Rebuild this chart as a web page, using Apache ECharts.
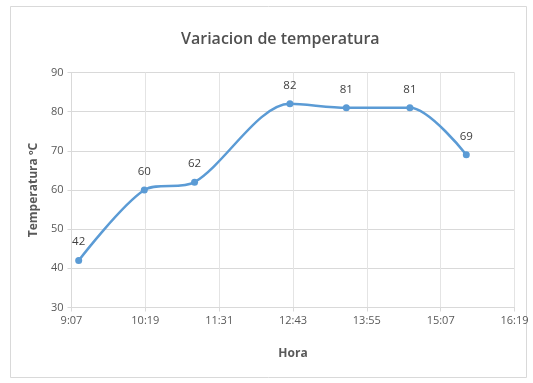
<!DOCTYPE html>
<html>
<head>
<meta charset="utf-8">
<script src="https://cdn.jsdelivr.net/npm/echarts@6/dist/echarts.min.js"></script>
<style>
  html, body { margin: 0; padding: 0; background: #ffffff; }
  #chart { width: 533px; height: 383px; }
</style>
</head>
<body>
<div id="chart"></div>
<script>
// Readings: time of day and temperature
var horas = ['9:14', '10:18', '11:07', '12:40', '13:35', '14:37', '15:32'];
var temperaturas = [42, 60, 62, 82, 81, 81, 69];

// Axis ticks: every 1h12m starting at 9:07
var inicioEje = '9:07';
var pasoMin = 72;
var finEjeMin = 432;
var yMin = 30, yMax = 90, yPaso = 10;

function aMinutos(t) {
  var p = t.split(':');
  return parseInt(p[0], 10) * 60 + parseInt(p[1], 10);
}
var base = aMinutos(inicioEje);
function etiquetaHora(m) {
  var total = Math.round(m + base);
  var h = Math.floor(total / 60), mm = total % 60;
  return h + ':' + (mm < 10 ? '0' : '') + mm;
}

var puntos = horas.map(function (t, i) {
  return [aMinutos(t) - base, temperaturas[i]];
});

var fuente = '"Open Sans", "Liberation Sans", sans-serif';
var chart = echarts.init(document.getElementById('chart'), null, { renderer: 'canvas' });
chart.setOption({
  animation: false,
  backgroundColor: '#ffffff',
  graphic: [{
    type: 'rect',
    shape: { x: 10.5, y: 6.5, width: 516, height: 371 },
    style: { fill: 'none', stroke: '#d9d9d9', lineWidth: 1 },
    silent: true
  }],
  title: {
    text: 'Variacion de temperatura',
    left: 176,
    top: 26,
    textStyle: { fontFamily: fuente, fontSize: 16, fontWeight: 600, color: '#505050' }
  },
  grid: { left: 71.5, right: 18.5, top: 72.5, bottom: 75.5 },
  xAxis: {
    type: 'value',
    min: 0,
    max: finEjeMin,
    interval: pasoMin,
    name: 'Hora',
    nameLocation: 'middle',
    nameGap: 40,
    nameTextStyle: { fontFamily: fuente, fontSize: 12, fontWeight: 'bold', color: '#595959' },
    axisLine: { show: true, lineStyle: { color: '#d9d9d9', width: 1 } },
    axisTick: { show: true, length: 4, lineStyle: { color: '#d9d9d9' } },
    axisLabel: {
      fontFamily: fuente, fontSize: 11, color: '#595959', margin: 8,
      formatter: function (v) { return etiquetaHora(v); }
    },
    splitLine: { show: true, lineStyle: { color: '#e4e4e4', width: 1 } }
  },
  yAxis: {
    type: 'value',
    min: yMin,
    max: yMax,
    interval: yPaso,
    name: 'Temperatura ºC',
    nameLocation: 'middle',
    nameGap: 28,
    nameTextStyle: { fontFamily: fuente, fontSize: 12, fontWeight: 'bold', color: '#595959' },
    axisLine: { show: true, lineStyle: { color: '#d9d9d9', width: 1 } },
    axisTick: { show: true, length: 4, lineStyle: { color: '#d9d9d9' } },
    axisLabel: { fontFamily: fuente, fontSize: 11, color: '#595959', margin: 8 },
    splitLine: { show: true, lineStyle: { color: '#d9d9d9', width: 1 } }
  },
  series: [{
    type: 'line',
    data: puntos,
    smooth: 0.3,
    symbol: 'circle',
    symbolSize: 7,
    lineStyle: { color: '#5b9bd5', width: 2.5 },
    itemStyle: { color: '#5b9bd5' },
    label: {
      show: true,
      position: 'top',
      distance: 9,
      fontFamily: fuente,
      fontSize: 11.5,
      color: '#404040',
      formatter: function (p) { return p.value[1]; }
    }
  }]
});
</script>
</body>
</html>
